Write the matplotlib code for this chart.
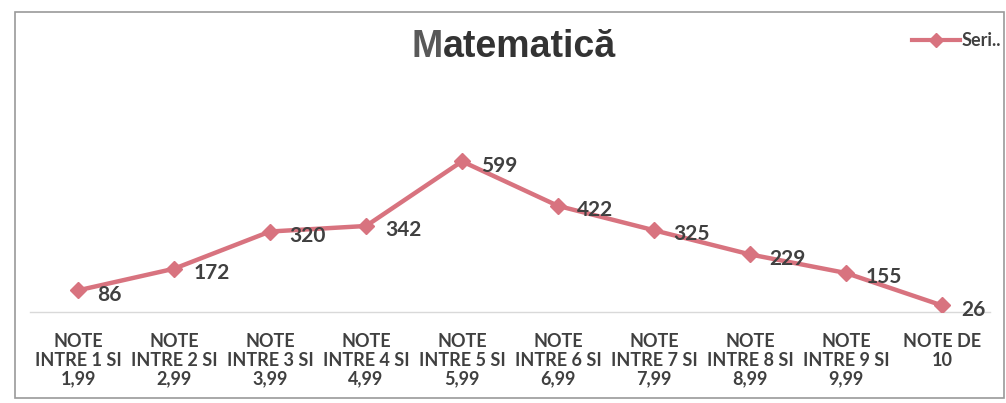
import matplotlib
matplotlib.use("Agg")
import matplotlib.pyplot as plt
from matplotlib.patches import Rectangle
from matplotlib.lines import Line2D

categories = ["NOTE\nINTRE 1 SI\n1,99", "NOTE\nINTRE 2 SI\n2,99", "NOTE\nINTRE 3 SI\n3,99",
              "NOTE\nINTRE 4 SI\n4,99", "NOTE\nINTRE 5 SI\n5,99", "NOTE\nINTRE 6 SI\n6,99",
              "NOTE\nINTRE 7 SI\n7,99", "NOTE\nINTRE 8 SI\n8,99", "NOTE\nINTRE 9 SI\n9,99",
              "NOTE DE\n10"]
values = [86, 172, 320, 342, 599, 422, 325, 229, 155, 26]
series_name = "Seri.."
title = "Matematică"

W, H = 1006, 403
fig = plt.figure(figsize=(W / 100, H / 100), dpi=100)
fig.patch.set_facecolor("white")

# outer chart frame
fig.add_artist(Rectangle((15 / W, 1 - 398 / H), (1004 - 15) / W, (398 - 12) / H,
                         transform=fig.transFigure, fill=False, edgecolor="#9a9a9a", lw=1.2))

color = "#D8737F"
ymax = 800
zero_y = 312
scale = 0.2515
left, right = 30, 990
top_y = zero_y - ymax * scale
ax = fig.add_axes([left / W, 1 - zero_y / H, (right - left) / W, (zero_y - top_y) / H])
x = list(range(len(values)))
ax.plot(x, values, color=color, lw=3.2, marker="D", markersize=8.5, zorder=3)
ax.set_xlim(-0.5, len(values) - 0.5)
ax.set_ylim(0, ymax)
for s in ["top", "right", "left"]:
    ax.spines[s].set_visible(False)
ax.spines["bottom"].set_color("#d9d9d9")
ax.spines["bottom"].set_linewidth(1)
ax.set_yticks([])
ax.set_xticks(x)
ax.set_xticklabels(categories, fontsize=13, fontweight="bold", color="#404040",
                   family="Lato", linespacing=1.12)
ax.tick_params(axis="x", length=0, pad=15)
ax.set_facecolor("none")

for xi, v in zip(x, values):
    ax.annotate(str(v), (xi, v), xytext=(14, -3), textcoords="offset points",
                ha="left", va="center", fontsize=15, fontweight="bold",
                color="#404040", family="Lato")

# title: grey "M" followed by darker rest
fig.canvas.draw()
renderer = fig.canvas.get_renderer()
t_kw = dict(fontsize=27, fontweight="bold", family="Liberation Sans", va="baseline")
tM = fig.text(0, 0, title[0], color="#595959", **t_kw)
tR = fig.text(0, 0, title[1:], color="#333333", **t_kw)
wM = tM.get_window_extent(renderer).width
wR = tR.get_window_extent(renderer).width
start = 514 - (wM + wR) / 2
tM.set_position((start / W, 1 - 57 / H))
tR.set_position(((start + wM) / W, 1 - 57 / H))

# legend
fig.add_artist(Line2D([912 / W, 960 / W], [1 - 40 / H, 1 - 40 / H], transform=fig.transFigure,
                      color=color, lw=3, marker=None))
fig.add_artist(Line2D([936 / W], [1 - 40 / H], transform=fig.transFigure,
                      color=color, marker="D", markersize=7, lw=0))
fig.text(962 / W, 1 - 40 / H, series_name, ha="left", va="center", fontsize=13,
         fontweight="bold", color="#404040", family="Lato")

fig.savefig("out.png", dpi=100, facecolor="white")
